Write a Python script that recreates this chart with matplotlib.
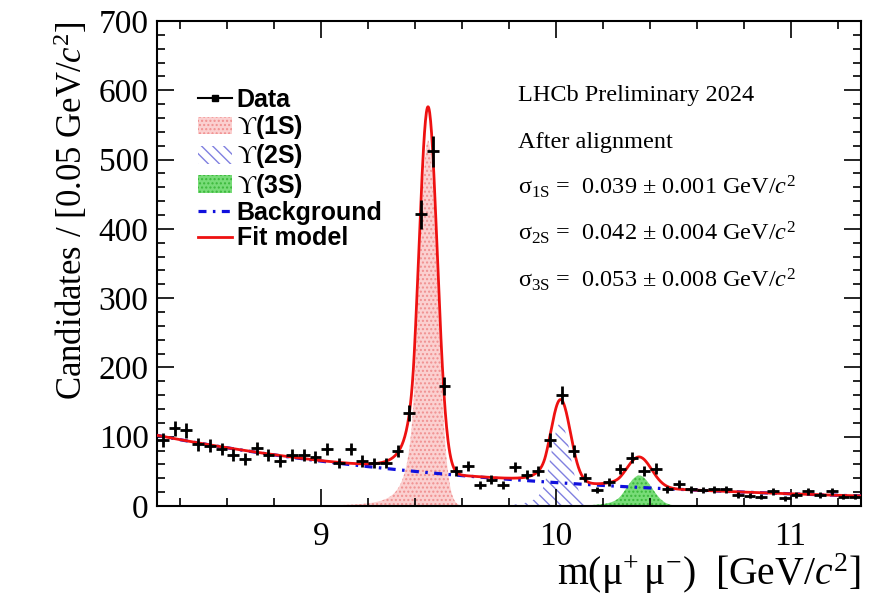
import numpy as np
import matplotlib
matplotlib.use('Agg')
import matplotlib.pyplot as plt
from matplotlib.lines import Line2D
from matplotlib.patches import Patch
from matplotlib.ticker import MultipleLocator

plt.rcParams['mathtext.fontset'] = 'custom'
plt.rcParams['mathtext.rm'] = 'Liberation Serif'
plt.rcParams['mathtext.it'] = 'Liberation Serif:italic'
plt.rcParams['mathtext.bf'] = 'Liberation Serif:bold'
plt.rcParams['mathtext.fallback'] = 'stix'
plt.rcParams['font.family'] = ['Liberation Serif', 'DejaVu Serif']
plt.rcParams['hatch.linewidth'] = 1.0

# ---- data (bin width 0.05 GeV/c^2) ----
bin_centers = np.arange(8.325, 11.30, 0.05)
counts = [95, 112, 109, 89, 87, 82, 74, 68, 83, 74,
          65, 74, 74, 71, 82, 62, 82, 65, 62, 62,
          79, 134, 421, 512, 173, 50, 58, 30, 38, 30,
          56, 45, 51, 95, 160, 79, 41, 23, 35, 53,
          70, 51, 54, 24, 32, 24, 23, 24, 24, 16,
          15, 13, 21, 11, 16, 21, 16, 21, 13, 13]

# ---- fit model parameters ----
peak_names = ['$\\mathrm{\u03d2}$(1S)', '$\\mathrm{\u03d2}$(2S)', '$\\mathrm{\u03d2}$(3S)']
peak_mass = [9.455, 10.020, 10.355]
peak_sigma = [0.039, 0.042, 0.053]
peak_height = [528, 120, 44]
tail_alpha = 1.5
tail_n = 3.0
bkg_norm = 102.0      # background at m = 8.3
bkg_slope = 0.65      # exponential slope per GeV/c^2

x_range = (8.3, 11.3)
y_range = (0, 700)

info_lines = ['LHCb Preliminary 2024',
              'After alignment',
              r'$\mathrm{\sigma_{1S}}$ =  0.039 $\pm$ 0.001 GeV/$c^2$',
              r'$\mathrm{\sigma_{2S}}$ =  0.042 $\pm$ 0.004 GeV/$c^2$',
              r'$\mathrm{\sigma_{3S}}$ =  0.053 $\pm$ 0.008 GeV/$c^2$']


def crystal_ball(x, m, s, alpha, n):
    t = (x - m) / s
    A = (n / alpha) ** n * np.exp(-alpha ** 2 / 2)
    B = n / alpha - alpha
    out = np.exp(-0.5 * t ** 2)
    tail = t <= -alpha
    out[tail] = A / (B - t[tail]) ** n
    return out


xf = np.linspace(x_range[0], x_range[1], 1501)
bkg = bkg_norm * np.exp(-bkg_slope * (xf - x_range[0]))
sigs = [h * crystal_ball(xf, m, s, tail_alpha, tail_n)
        for m, s, h in zip(peak_mass, peak_sigma, peak_height)]
total = bkg + sum(sigs)

fig = plt.figure(figsize=(8.84, 5.97), dpi=100)
ax = fig.add_axes([157 / 884, 1 - 506 / 597, 704 / 884, 485 / 597])

fill_styles = [dict(facecolor='#fbd0d0', edgecolor='#f09090', hatch='....'),
               dict(facecolor='none', edgecolor='#8080e0', hatch='\\\\\\'),
               dict(facecolor='#78dc78', edgecolor='#3cb83c', hatch='....')]

for sig, st in zip(sigs, fill_styles):
    ax.fill_between(xf, 0, sig, where=sig > 0.3, linewidth=0, zorder=1, **st)

ax.plot(xf, bkg, color='#1010dd', lw=2.3, ls=(0, (2.5, 2.0, 0.8, 2.0)), zorder=3)
ax.plot(xf, total, color='#ee1111', lw=2.0, zorder=4)

yerr = np.sqrt(np.asarray(counts, dtype=float))
ax.errorbar(bin_centers, counts, yerr=yerr, xerr=0.025, fmt='s', color='k',
            markersize=2.0, elinewidth=2.0, capsize=0, zorder=5)

ax.set_xlim(*x_range)
ax.set_ylim(*y_range)
ax.xaxis.set_major_locator(MultipleLocator(1))
ax.xaxis.set_minor_locator(MultipleLocator(0.2))
ax.yaxis.set_major_locator(MultipleLocator(100))
ax.yaxis.set_minor_locator(MultipleLocator(20))
ax.tick_params(which='both', direction='in', top=True, right=True, width=1.2)
ax.tick_params(which='major', length=12, labelsize=24)
ax.tick_params(which='minor', length=6)
ax.tick_params(axis='x', which='major', pad=11)
ax.tick_params(axis='y', which='major', pad=6)
for sp in ax.spines.values():
    sp.set_linewidth(1.5)

ax.set_xlabel(r'm($\mathrm{\mu^{+}\,\mu^{-}}$)  [GeV/$c^{2}$]', fontsize=28.5, loc='right', labelpad=0)
ax.set_ylabel(r'Candidates / [0.05 GeV/$c^2$]', fontsize=25, loc='top', labelpad=6)

ys = [101, 148, 194, 240, 287]
for txt, yp in zip(info_lines, ys):
    ax.text(518, 597 - yp, txt, transform=None, fontsize=17.5, va='baseline', ha='left')

handles = [Line2D([], [], color='k', marker='s', markersize=4, lw=1.5)]
for st in fill_styles:
    handles.append(Patch(linewidth=0, **st))
handles.append(Line2D([], [], color='#1010dd', lw=2.3, ls=(0, (2.5, 2.0, 0.8, 2.0))))
handles.append(Line2D([], [], color='#ee1111', lw=2.0))
labels = ['Data'] + peak_names + ['Background', 'Fit model']
leg = ax.legend(handles, labels, loc='upper left', bbox_to_anchor=(198 / 884, 1 - 88 / 597),
                bbox_transform=fig.transFigure, frameon=False, handlelength=1.35,
                handletextpad=0.2, labelspacing=0.05, borderaxespad=0, borderpad=0,
                prop={'family': ['Liberation Sans', 'DejaVu Sans'], 'weight': 'bold', 'size': 18})

fig.savefig('out.png', dpi=100)
